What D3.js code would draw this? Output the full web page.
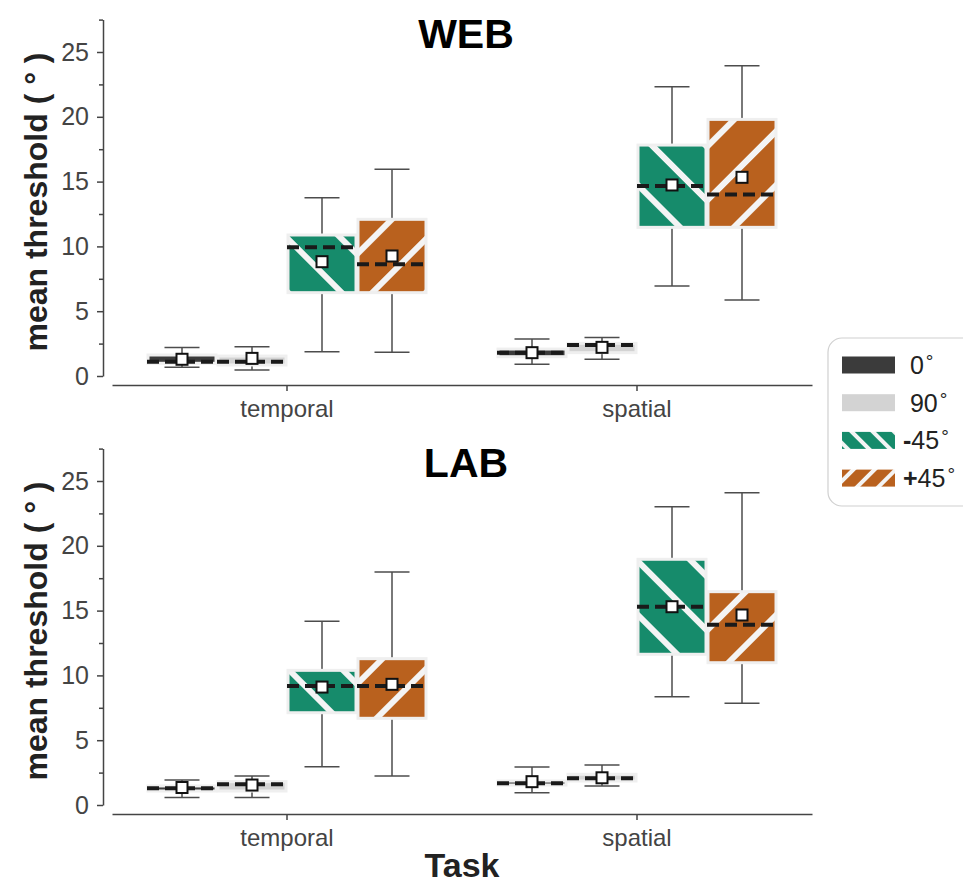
<!DOCTYPE html>
<html>
<head>
<meta charset="utf-8">
<script src="https://cdn.jsdelivr.net/npm/d3@7"></script>
<style>
  body { margin: 0; background: #fff; }
  text { font-family: "Liberation Sans", Arial, sans-serif; }
</style>
</head>
<body>
<svg id="fig" width="963" height="883"></svg>
<script>
(function() {

  var tasks = ["temporal", "spatial"];
  var conds = ["0°", "90°", "-45°", "+45°"];
  var legendSigns = [" ", " ", "-", "+"];
  var legendNums = ["0", "90", "45", "45"];
  var yTicks = [0, 5, 10, 15, 20, 25];
  var yMinor = [2.5, 7.5, 12.5, 17.5, 22.5, 27.5];

  // order: temporal 0, 90, -45, +45, then spatial 0, 90, -45, +45
  var webLo   = [0.67, 0.46, 1.88, 1.83, 0.90, 1.29, 6.94, 5.86];
  var webQ1   = [0.98, 0.85, 6.43, 6.43, 1.49, 1.80, 11.47, 11.47];
  var webMed  = [1.10, 1.10, 9.93, 8.62, 1.80, 2.39, 14.66, 14.01];
  var webQ3   = [1.62, 1.54, 10.88, 12.09, 2.08, 2.52, 17.82, 19.80];
  var webHi   = [2.20, 2.26, 13.76, 15.95, 2.85, 2.98, 22.32, 23.94];
  var webMean = [1.29, 1.36, 8.82, 9.26, 1.80, 2.21, 14.74, 15.33];

  var labLo   = [0.57, 0.57, 2.96, 2.24, 0.95, 1.47, 8.36, 7.85];
  var labQ1   = [1.08, 1.08, 7.12, 6.69, 1.54, 1.85, 11.63, 10.98];
  var labMed  = [1.29, 1.60, 9.18, 9.18, 1.67, 2.06, 15.30, 13.91];
  var labQ3   = [1.47, 1.80, 10.39, 11.29, 1.85, 2.37, 18.96, 16.46];
  var labHi   = [1.93, 2.24, 14.17, 17.98, 2.93, 3.09, 23.02, 24.10];
  var labMean = [1.35, 1.54, 9.10, 9.31, 1.80, 2.10, 15.30, 14.66];

  var fills = ["#3b3b3b", "#d3d3d3", "#168b6b", "#b9611e"];
  var hatch = [null, null, 45, -45];

  var svg = d3.select("#fig");
  var defs = svg.append("defs");

  function makeHatch(id, color, angle, gap, lw) {
    var p = defs.append("pattern")
        .attr("id", id)
        .attr("patternUnits", "userSpaceOnUse")
        .attr("width", 20)
        .attr("height", gap)
        .attr("patternTransform", "rotate(" + angle + ")");
    p.append("rect").attr("width", 20).attr("height", gap).attr("fill", color);
    p.append("rect").attr("y", 0).attr("width", 20).attr("height", lw).attr("fill", "#f4f4f4");
  }
  conds.forEach(function(c, i) {
    if (hatch[i] != null) {
      makeHatch("h" + i, fills[i], hatch[i], 38, 6);
      makeHatch("hl" + i, fills[i], hatch[i], 15, 4);
    }
  });

  var xTask = d3.scaleBand().domain(tasks).range([112, 812]);
  var xCond = d3.scaleBand().domain(conds).range([-140, 140]);
  var bw = xCond.bandwidth();

  var panels = [
    {title: "WEB", off: 0, lo: webLo, q1: webQ1, med: webMed, q3: webQ3, hi: webHi, mean: webMean},
    {title: "LAB", off: 429, lo: labLo, q1: labQ1, med: labMed, q3: labQ3, hi: labHi, mean: labMean}
  ];

  panels.forEach(function(P) {
    var y = d3.scaleLinear().domain([0, 27.5]).range([376 + P.off, 19.6 + P.off]);
    var g = svg.append("g");

    // axes
    g.append("g").attr("transform", "translate(103,0)")
        .call(d3.axisLeft(y).tickValues(yTicks).tickSize(6).tickSizeOuter(0).tickPadding(8));
    g.append("g").attr("transform", "translate(103,0)")
        .call(d3.axisLeft(y).tickValues(yMinor).tickSize(4).tickFormat(""))
        .select(".domain").remove();
    g.append("g").attr("transform", "translate(0," + (385 + P.off) + ")")
        .call(d3.axisBottom(xTask).tickSize(6).tickSizeOuter(0).tickPadding(9));
    g.selectAll(".domain, .tick line").attr("stroke", "#444").attr("stroke-width", 1.5);
    g.selectAll(".tick text").attr("fill", "#444").attr("font-size", 24)
        .attr("font-family", "Liberation Sans, Arial, sans-serif");
    g.selectAll(".tick text").filter(function(d) { return typeof d === "number"; })
        .attr("font-size", 25);

    g.append("text")
        .attr("transform", "translate(47," + (202 + P.off) + ") rotate(-90)")
        .attr("text-anchor", "middle")
        .attr("font-size", 32)
        .attr("font-weight", "bold")
        .attr("fill", "#222")
        .text("mean threshold ( ° )");

    g.append("text")
        .attr("x", 466)
        .attr("y", 48 + P.off)
        .attr("text-anchor", "middle")
        .attr("font-size", 41)
        .attr("font-weight", "bold")
        .attr("fill", "#000")
        .text(P.title);

    var rows = [];
    tasks.forEach(function(t, ti) {
      conds.forEach(function(c, ci) {
        var k = ti * conds.length + ci;
        rows.push({task: t, cond: c, ci: ci, lo: P.lo[k], q1: P.q1[k], med: P.med[k],
                   q3: P.q3[k], hi: P.hi[k], mean: P.mean[k]});
      });
    });

    var box = g.selectAll(".box").data(rows).enter().append("g")
        .attr("transform", function(d) {
          return "translate(" + (xTask(d.task) + xTask.bandwidth() / 2 + xCond(d.cond) + bw / 2) + ",0)";
        });

    box.append("line")
        .attr("y1", function(d) { return y(d.lo); })
        .attr("y2", function(d) { return y(d.hi); })
        .attr("stroke", "#4d4d4d").attr("stroke-width", 1.5);
    box.selectAll(".cap").data(function(d) { return [d.lo, d.hi]; }).enter().append("line")
        .attr("x1", -bw / 4).attr("x2", bw / 4)
        .attr("y1", function(v) { return y(v); })
        .attr("y2", function(v) { return y(v); })
        .attr("stroke", "#4d4d4d").attr("stroke-width", 1.5);

    box.append("rect")
        .attr("x", -bw / 2 + 1)
        .attr("width", bw - 2)
        .attr("y", function(d) { return y(d.q3); })
        .attr("height", function(d) { return y(d.q1) - y(d.q3); })
        .attr("fill", function(d) { return hatch[d.ci] != null ? "url(#h" + d.ci + ")" : fills[d.ci]; })
        .attr("stroke", "#efefef")
        .attr("stroke-width", 3);

    box.append("line")
        .attr("x1", -bw / 2).attr("x2", bw / 2)
        .attr("y1", function(d) { return y(d.med); })
        .attr("y2", function(d) { return y(d.med); })
        .attr("stroke", "#1a1a1a")
        .attr("stroke-width", 4)
        .attr("stroke-dasharray", "12,6");

    box.append("rect")
        .attr("x", -5.5).attr("width", 11)
        .attr("y", function(d) { return y(d.mean) - 5.5; })
        .attr("height", 11)
        .attr("fill", "#fff")
        .attr("stroke", "#111")
        .attr("stroke-width", 2);
  });

  svg.append("text")
      .attr("x", 462)
      .attr("y", 877)
      .attr("text-anchor", "middle")
      .attr("font-size", 34)
      .attr("font-weight", "bold")
      .attr("fill", "#222")
      .text("Task");

  // legend
  var leg = svg.append("g");
  leg.append("rect")
      .attr("x", 828).attr("y", 338)
      .attr("width", 160).attr("height", 168)
      .attr("rx", 14)
      .attr("fill", "#fff")
      .attr("stroke", "#d0d0d0")
      .attr("stroke-width", 1.2);
  var item = leg.selectAll(".item").data(conds).enter().append("g")
      .attr("transform", function(d, i) { return "translate(842," + (365 + i * 37.7) + ")"; });
  item.append("rect")
      .attr("y", -8.5).attr("width", 53).attr("height", 17)
      .attr("fill", function(d, i) { return hatch[i] != null ? "url(#hl" + i + ")" : fills[i]; });
  var lt = item.append("text")
      .attr("x", 61).attr("y", 9)
      .attr("font-size", 25)
      .attr("fill", "#222")
      .style("white-space", "pre");
  lt.append("tspan").attr("font-weight", "bold").text(function(d, i) { return legendSigns[i]; });
  lt.append("tspan").text(function(d, i) { return legendNums[i]; });
  lt.append("tspan").attr("font-size", 19).attr("dy", -6).attr("dx", 2).text("°");

})();
</script>
</body>
</html>
